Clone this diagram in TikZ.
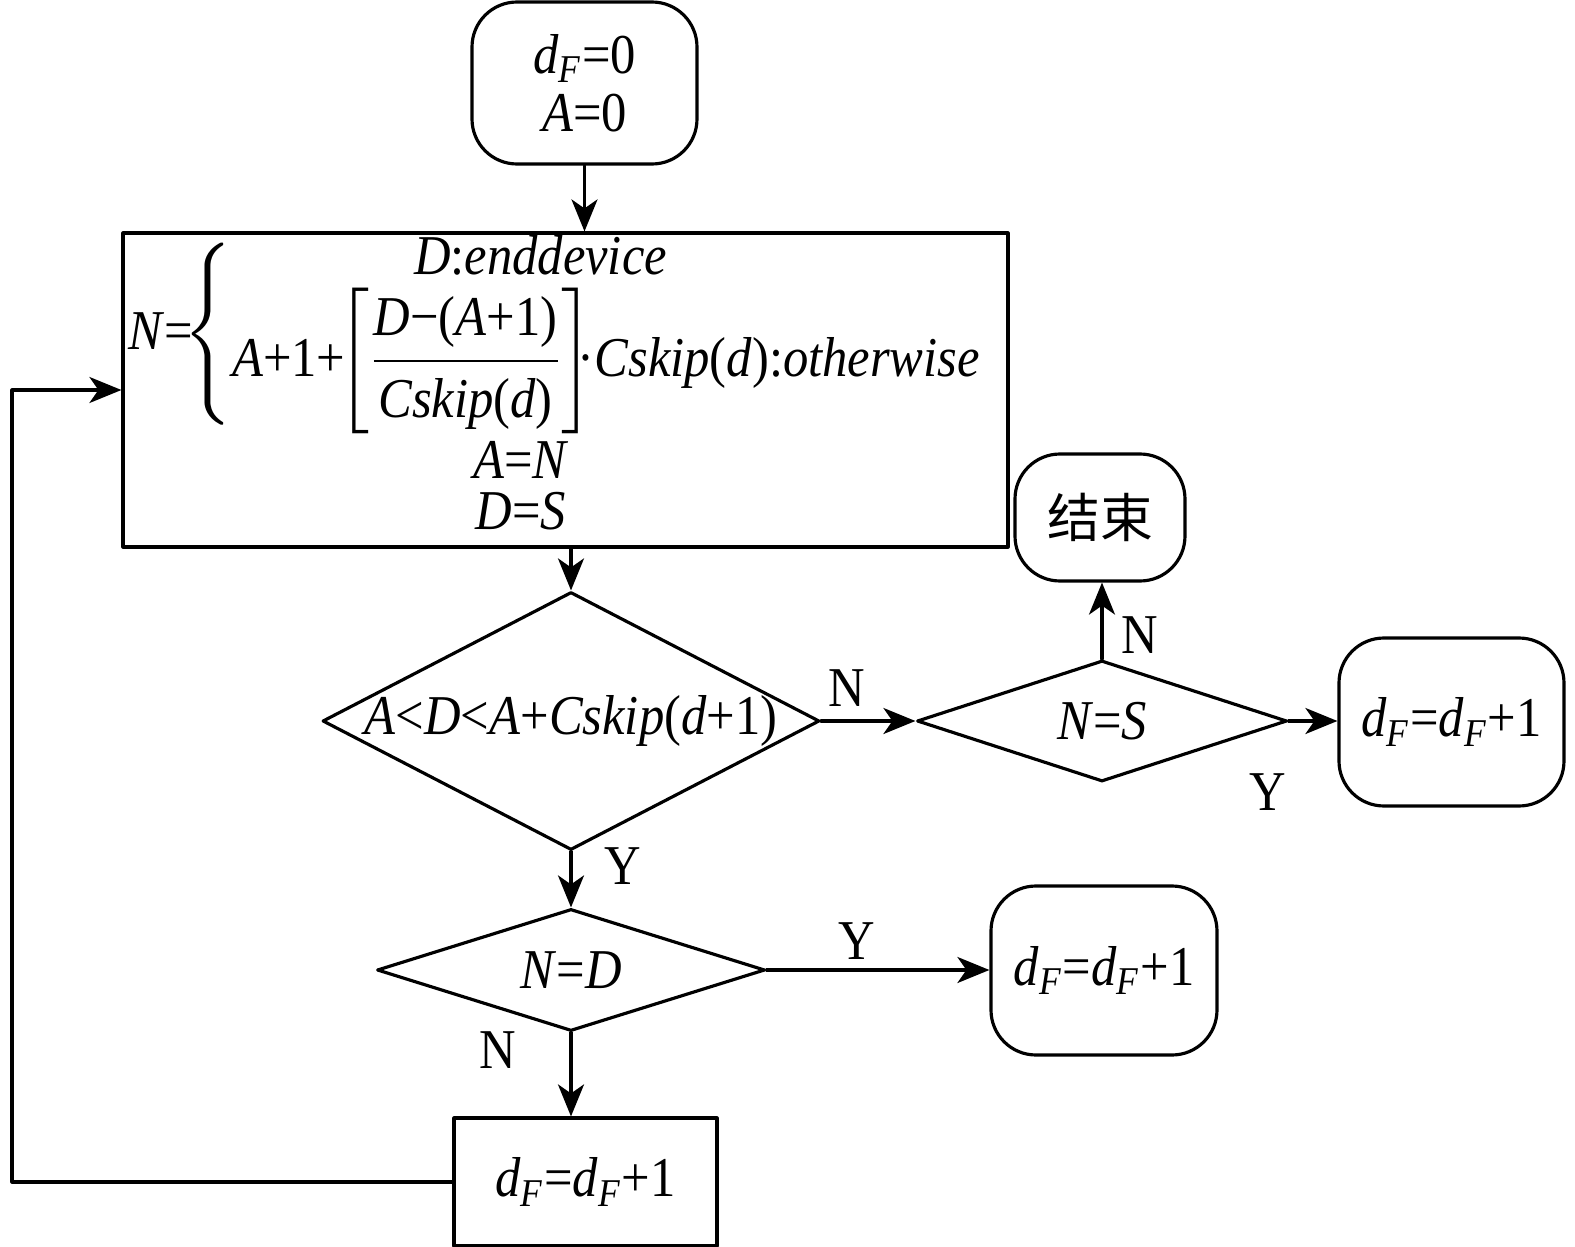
\documentclass[tikz,border=0pt]{standalone}
\usepackage{amsmath}
\usepackage{fontspec}
\setmainfont{Liberation Serif}[FakeStretch=0.9]
\newfontfamily\cjk{Noto Sans CJK SC}
\usepackage{tikz}
\usetikzlibrary{arrows.meta}
\usetikzlibrary{shapes.geometric}
\usetikzlibrary{calc}
\newcommand{\dF}{\textit{d}\textsubscript{\textit{F}}}

\begin{document}
\begin{tikzpicture}[line cap=round,line join=round,line width=0.9pt,>={Stealth[length=3.2mm,width=2.6mm,inset=0.9mm]},x=1.0cm,y=1.0cm,
  every node/.style={font=\fontsize{16}{16.5}\selectfont},
  termbox/.style={draw,rounded corners=0.45cm,inner sep=0pt,align=center},
  procbox/.style={draw,inner sep=0pt,align=center},
  decision/.style={draw,diamond,inner sep=0pt},
  yn/.style={inner sep=0pt}]
  \useasboundingbox (0,0) rectangle (15.75,-12.47);
  \node[termbox,minimum width=2.25cm,minimum height=1.62cm] (start) at (5.845,-0.83) {\dF=0\\\textit{A}=0};
  \node[procbox,minimum width=8.85cm,minimum height=3.14cm] (calc) at (5.655,-3.90) {};
  \node[anchor=west,inner sep=0pt] (rule) at (1.27,-3.34) {%
    $\mbox{\textit{N}=}\!{\left\{\begin{array}{@{}l@{}}\hspace*{1.82cm}\mbox{\textit{D}:\textit{enddevice}}\\[-0.04cm]
    \mbox{\textit{A}+1+}\hspace{-0.08cm}{\delimiterfactor=780 \delimitershortfall=12pt\left[\dfrac{\mbox{\textit{D}−(\textit{A}+1)}}{\mbox{\textit{Cskip}(\textit{d})}}\right]}\hspace{-0.16cm}\mbox{·\textit{Cskip}(\textit{d}):\textit{otherwise}}\end{array}\right.}$};
  \node[align=center,inner sep=0pt] (upd) at (5.21,-4.86) {\textit{A}=\textit{N}\\[-2pt]\textit{D}=\textit{S}};
  \node[decision,minimum width=4.97cm,minimum height=2.58cm] (d1) at (5.71,-7.21) {\makebox[0pt]{\textit{A}<\textit{D}<\textit{A}+\textit{Cskip}(\textit{d}+1)}};
  \node[decision,minimum width=3.70cm,minimum height=1.21cm] (d2) at (11.02,-7.21) {\makebox[0pt]{\textit{N}=\textit{S}}};
  \node[termbox,minimum width=1.70cm,minimum height=1.27cm,font=\cjk\fontsize{15}{15}\selectfont] (stop) at (11.00,-5.175) {结束};
  \node[termbox,minimum width=2.25cm,minimum height=1.68cm] (inc1) at (14.515,-7.22) {\dF=\dF+1};
  \node[decision,minimum width=3.88cm,minimum height=1.22cm] (d3) at (5.71,-9.70) {\makebox[0pt]{\textit{N}=\textit{D}}};
  \node[termbox,minimum width=2.26cm,minimum height=1.69cm] (inc2) at (11.04,-9.705) {\dF=\dF+1};
  \node[procbox,minimum width=2.63cm,minimum height=1.28cm] (inc3) at (5.855,-11.82) {\dF=\dF+1};
  \coordinate (back) at (0.12,-3.90);
  \draw[->] (start.south) -- (start.south |- calc.north);
  \draw[->] (d1.north |- calc.south) -- (d1.north);
  \draw[->] (d1.east) -- (d2.west);
  \draw[->] (d2.north) -- (d2.north |- stop.south);
  \draw[->] (d2.east) -- (d2.east -| inc1.west);
  \draw[->] (d1.south) -- (d3.north);
  \draw[->] (d3.east) -- (d3.east -| inc2.west);
  \draw[->] (d3.south) -- (d3.south |- inc3.north);
  \draw[->] (inc3.west) -| (back) -- (calc.west);
  \node[yn] (n1) at (8.47,-6.88) {N};
  \node[yn] (n2) at (11.40,-6.35) {N};
  \node[yn] (y1) at (12.68,-7.92) {Y};
  \node[yn] (y2) at (6.23,-8.66) {Y};
  \node[yn] (y3) at (8.57,-9.41) {Y};
  \node[yn] (n3) at (4.98,-10.50) {N};
\end{tikzpicture}
\end{document}
